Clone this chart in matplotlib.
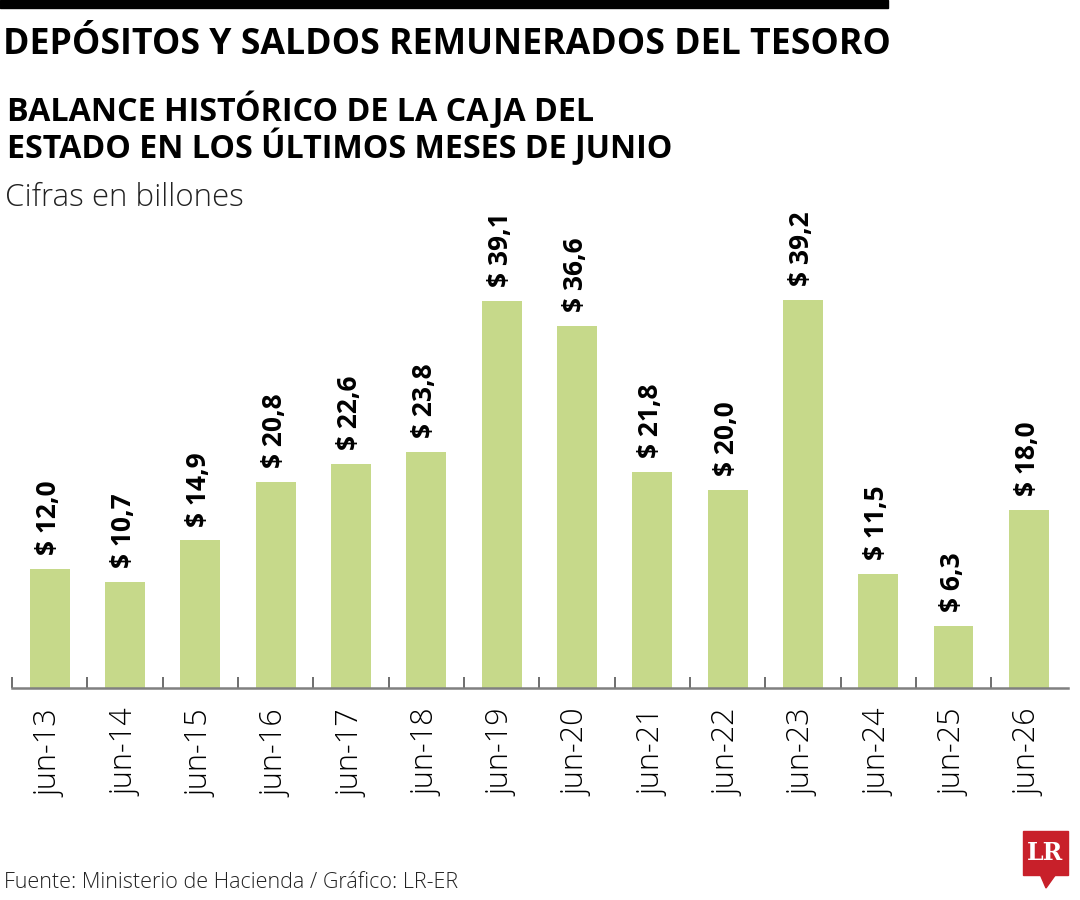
import matplotlib
matplotlib.use("Agg")
import matplotlib.pyplot as plt
from matplotlib import font_manager
from matplotlib.patches import Rectangle, Polygon

installed = {f.name for f in font_manager.fontManager.ttflist}

categories = ["jun-13", "jun-14", "jun-15", "jun-16", "jun-17", "jun-18", "jun-19",
              "jun-20", "jun-21", "jun-22", "jun-23", "jun-24", "jun-25", "jun-26"]
values = [12.0, 10.7, 14.9, 20.8, 22.6, 23.8, 39.1, 36.6, 21.8, 20.0, 39.2, 11.5, 6.3, 18.0]
labels = ["$ 12,0", "$ 10,7", "$ 14,9", "$ 20,8", "$ 22,6", "$ 23,8", "$ 39,1",
          "$ 36,6", "$ 21,8", "$ 20,0", "$ 39,2", "$ 11,5", "$ 6,3", "$ 18,0"]

W, H = 1080, 900
body = "Open Sans"
narrow = "Liberation Sans Narrow" if "Liberation Sans Narrow" in installed else body

fig = plt.figure(figsize=(W / 100, H / 100), dpi=100)
fig.patch.set_facecolor("white")

def fx(px):
    return px / W

def fy(py):
    return 1 - py / H

# black strip on top
fig.patches.append(Rectangle((0, fy(8)), fx(888), 8 / H, transform=fig.transFigure,
                             color="black", zorder=5))

fig.text(fx(3), fy(45), "DEPÓSITOS Y SALDOS REMUNERADOS DEL TESORO", fontsize=25.7,
         fontweight="bold", family=narrow, va="center", ha="left")
fig.text(fx(7), fy(110), "BALANCE HISTÓRICO DE LA CAJA DEL", fontsize=23.2,
         fontweight="bold", family=narrow, va="center", ha="left")
fig.text(fx(7), fy(147), "ESTADO EN LOS ÚLTIMOS MESES DE JUNIO", fontsize=23.2,
         fontweight="bold", family=narrow, va="center", ha="left")
fig.text(fx(5), fy(198), "Cifras en billones", fontsize=22.5, fontweight="light",
         family=body, va="center", ha="left", color="#222222")
fig.text(fx(4), fy(882), "Fuente: Ministerio de Hacienda / Gráfico: LR-ER", fontsize=15.5,
         fontweight="light", family=body, va="center", ha="left", color="#222222")

# axes: baseline at y=688px, 9.9 px per unit
base_px = 688
ppu = 9.9
top_px = 220
ax = fig.add_axes([fx(12), fy(base_px), fx(1068) - fx(12), (base_px - top_px) / H])
ax.set_ylim(0, (base_px - top_px) / ppu)
ax.set_xlim(-0.5, 13.52)

x = range(len(categories))
ax.bar(x, values, width=0.53, color="#c6d98a", zorder=2)
for i, (v, lab) in enumerate(zip(values, labels)):
    ax.annotate(lab, (i, v), xytext=(-1, 10), textcoords="offset points", rotation=90,
                ha="center", va="bottom", fontsize=19, fontweight="bold", family=body)

for s in ["top", "right", "left"]:
    ax.spines[s].set_visible(False)
ax.spines["bottom"].set_color("#808080")
ax.spines["bottom"].set_linewidth(1.8)
ax.set_yticks([])
ax.set_xticks([i - 0.5 for i in x])
ax.set_xticklabels([])
ax.tick_params(axis="x", direction="in", length=8, width=1.2, color="#555555")
ax.set_xticks(list(x), minor=True)
ax.set_xticklabels(categories, minor=True, rotation=90, fontsize=22, fontweight="light",
                   family=body, va="top", ha="center")
ax.tick_params(axis="x", which="minor", length=0, pad=15)
ax.set_facecolor("none")

# LR logo
fig.patches.append(Rectangle((fx(1023), fy(875)), fx(45), 44 / H, transform=fig.transFigure,
                             color="#c8202a", zorder=5))
fig.patches.append(Polygon([(fx(1040), fy(874)), (fx(1056), fy(874)), (fx(1046), fy(888))],
                           closed=True, transform=fig.transFigure, color="#c8202a", zorder=5))
fig.text(fx(1045.5), fy(853), "LR", fontsize=17, fontweight="bold", family="DejaVu Serif",
         color="white", ha="center", va="center", zorder=6)

fig.savefig("out.png", dpi=100)
